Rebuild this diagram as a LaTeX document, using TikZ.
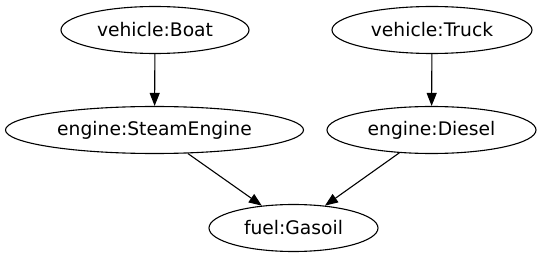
\documentclass[tikz,border=0pt]{standalone}
\usepackage{fontspec}
\setmainfont{DejaVu Sans}
\usetikzlibrary{arrows.meta, shapes.geometric}

\begin{document}
\begin{tikzpicture}[
  x=1pt, y=-1pt,
  obj/.style={draw, ellipse, line width=1.1pt, inner sep=0pt, minimum height=47pt,
    font=\fontsize{18.7}{22}\selectfont},
  arrow/.style={-{Triangle[length=13pt, width=10pt]}, line width=1.1pt}
]
  \useasboundingbox (0,0) rectangle (541,259);

  % top row: vehicles
  \node[obj, minimum width=188pt] (boat) at (155,30) {vehicle:Boat};
  \node[obj, minimum width=200pt] (truck) at (432,30) {vehicle:Truck};

  % middle row: engines
  \node[obj, minimum width=298pt] (steam) at (154.5,130) {engine:SteamEngine};
  \node[obj, minimum width=209pt] (diesel) at (431.5,130) {engine:Diesel};

  % bottom: fuel
  \node[obj, minimum width=169pt] (gasoil) at (293.5,228) {fuel:Gasoil};

  \draw[arrow] (boat) -- (steam);
  \draw[arrow] (truck) -- (diesel);
  \draw[arrow] (steam) -- (gasoil);
  \draw[arrow] (diesel) -- (gasoil);
\end{tikzpicture}
\end{document}
